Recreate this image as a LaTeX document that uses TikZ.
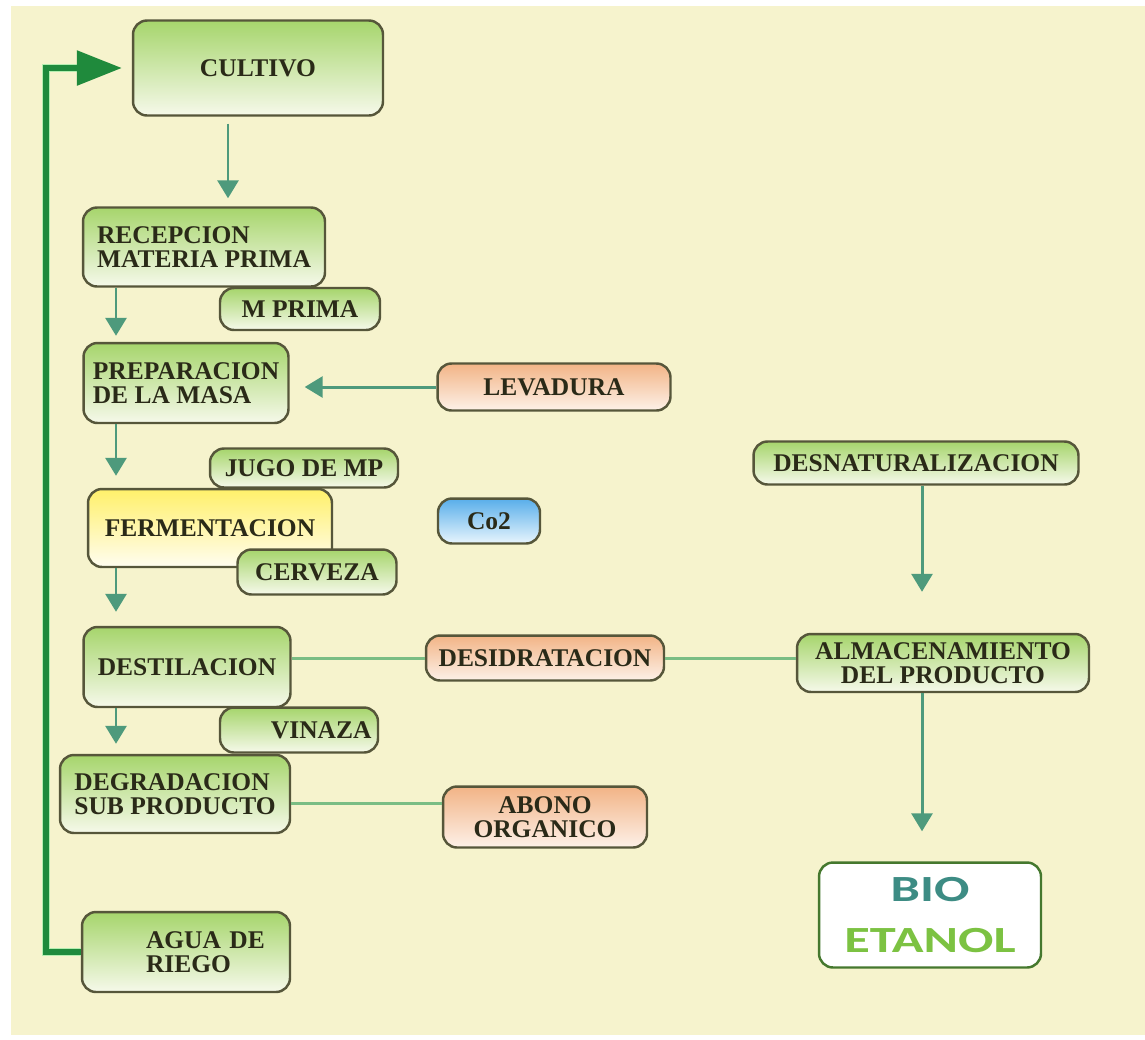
\documentclass[tikz,border=0pt]{standalone}
\usepackage{fontspec}
\setmainfont{Liberation Serif}
\newfontfamily\biofont[FakeStretch=1.42]{Carlito}
\usepackage{xcolor}
\usepackage{tikz}
\usetikzlibrary{shapes,arrows.meta,positioning,calc}
\definecolor{crema}{HTML}{F6F3CD}
\definecolor{borde}{HTML}{56563A}
\definecolor{texto}{HTML}{2A2A18}
\definecolor{verdeA}{HTML}{A6D56C}
\definecolor{verdeB}{HTML}{F6F9EA}
\definecolor{naranjaA}{HTML}{F2B486}
\definecolor{naranjaB}{HTML}{FDF1E8}
\definecolor{azulA}{HTML}{58AEEA}
\definecolor{azulB}{HTML}{E8F5FD}
\definecolor{amarilloA}{HTML}{FFF06A}
\definecolor{amarilloB}{HTML}{FFFDF0}
\definecolor{flechaverde}{HTML}{4E9A7C}
\definecolor{lineaverde}{HTML}{7ABD84}
\definecolor{retornoverde}{HTML}{1F8A3C}
\definecolor{retornoclaro}{HTML}{B4EEB0}
\definecolor{bioazul}{HTML}{3D8C84}
\definecolor{bioverde}{HTML}{7CC242}

\begin{document}
\begin{tikzpicture}[x=0.02cm,y=-0.02cm,
    caja/.style={draw=borde,line width=1.4pt,rounded corners=0.28cm,inner sep=2pt,align=center,
        font=\fontsize{14.5}{14}\selectfont\bfseries,text=texto,top color=verdeA,bottom color=verdeB},
    naranja/.style={caja,top color=naranjaA,bottom color=naranjaB},
    flecha/.style={draw=flechaverde,line width=1.7pt,-{Triangle[length=0.36cm,width=0.42cm]}},
    linea/.style={draw=lineaverde,line width=1.7pt}]
    \useasboundingbox (0,0) rectangle (1145,1039);
    \fill[white] (0,0) rectangle (1145,1039);
    \fill[crema] (11,6) rectangle (1145,1035);
    \coordinate (eje) at (116,0);
    \coordinate (ejeder) at (922,0);
    \coordinate (vuelta) at (46,0);

    % Main process column
    \node[caja,minimum width=5cm,minimum height=1.9cm] at (258,68) (cultivo) {CULTIVO};
    \node[caja,minimum width=4.84cm,minimum height=1.58cm,align=left] at (204,247) (recep) {RECEPCION\\MATERIA PRIMA};
    \node[caja,minimum width=3.2cm,minimum height=0.84cm] at (300,309) (mprima) {M PRIMA};
    \node[caja,minimum width=4.1cm,minimum height=1.6cm,align=left] at (186,383) (prep) {PREPARACION\\DE LA MASA};
    \node[caja,minimum width=4.88cm,minimum height=1.56cm,top color=amarilloA,bottom color=amarilloB] at (210,528) (ferm) {FERMENTACION};
    \node[caja,minimum width=3.76cm,minimum height=0.78cm] at (304,468) (jugo) {JUGO DE MP};
    \node[caja,minimum width=3.18cm,minimum height=0.9cm] at (317,572) (cerveza) {CERVEZA};
    \node[caja,minimum width=4.14cm,minimum height=1.6cm] at (187,667) (destil) {DESTILACION};
    \node[caja,minimum width=3.16cm,minimum height=0.9cm,text width=2.9cm,align=right] at (299,730) (vinaza) {VINAZA};
    \node[caja,minimum width=4.6cm,minimum height=1.56cm,align=left] at (175,794) (degr) {DEGRADACION\\SUB PRODUCTO};
    \node[caja,minimum width=4.16cm,minimum height=1.6cm,text width=3.4cm,align=left,inner xsep=0.1cm] at (186,952) (agua) {\hspace*{0.9cm}AGUA DE\\\hspace*{0.9cm}RIEGO};

    % Inputs and outputs on the right
    \node[naranja,minimum width=4.66cm,minimum height=0.94cm] at (554,387) (levadura) {LEVADURA};
    \node[caja,minimum width=2.04cm,minimum height=0.9cm,top color=azulA,bottom color=azulB] at (489,521) (co2) {Co2};
    \node[naranja,minimum width=4.76cm,minimum height=0.9cm] at (545,658) (desidr) {DESIDRATACION};
    \node[naranja,minimum width=4.08cm,minimum height=1.22cm] at (545,817) (abono) {ABONO\\ORGANICO};
    \node[caja,minimum width=6.5cm,minimum height=0.86cm] at (916,463) (desnat) {DESNATURALIZACION};
    \node[caja,minimum width=5.84cm,minimum height=1.16cm] at (943,663) (almac) {ALMACENAMIENTO\\DEL PRODUCTO};
    \node[caja,minimum width=4.44cm,minimum height=2.1cm,fill=white,top color=white,bottom color=white,draw=borde!80!green,
        font=\biofont\fontsize{21}{29}\selectfont\bfseries] at (930,915) (bio) {\textcolor{bioazul}{BIO}\\\textcolor{bioverde}{ETANOL}};

    % Flow
    \draw[flecha,shorten <=0.14cm,shorten >=0.16cm] ($(cultivo.south)+(-30,0)$) -- ($(recep.north)+(24,0)$);
    \draw[flecha,shorten >=0.12cm] (recep.south -| eje) -- (prep.north -| eje);
    \draw[flecha,shorten >=0.24cm] (prep.south -| eje) -- (ferm.north -| eje);
    \draw[flecha,shorten >=0.28cm] (ferm.south -| eje) -- (destil.north -| eje);
    \draw[flecha,shorten >=0.2cm] (destil.south -| eje) -- (degr.north -| eje);
    \draw[flecha,shorten >=0.3cm] (levadura.west) -- (prep.east |- levadura.west);
    \draw[linea] (desidr.west -| destil.east) -- (desidr.west);
    \draw[linea] (desidr.east) -- (almac.west |- desidr.east);
    \draw[linea] ($(degr.east)+(0,9)$) -- ($(abono.west)+(0,-14)$);
    \draw[flecha,shorten >=0.82cm] (desnat.south -| ejeder) -- (almac.north -| ejeder);
    \draw[flecha,shorten >=0.6cm] (almac.south -| ejeder) -- (bio.north -| ejeder);

    % Water back to the crop
    \draw[retornoclaro,line width=4.5pt,shorten >=1.1cm,xshift=1.6pt] (agua.west) -- (agua.west -| vuelta) |- (cultivo.west);
    \draw[retornoverde,line width=3.3pt,shorten >=0.2cm,-{Triangle[length=0.9cm,width=0.68cm]}] (agua.west) -- (agua.west -| vuelta) |- (cultivo.west);
\end{tikzpicture}
\end{document}
